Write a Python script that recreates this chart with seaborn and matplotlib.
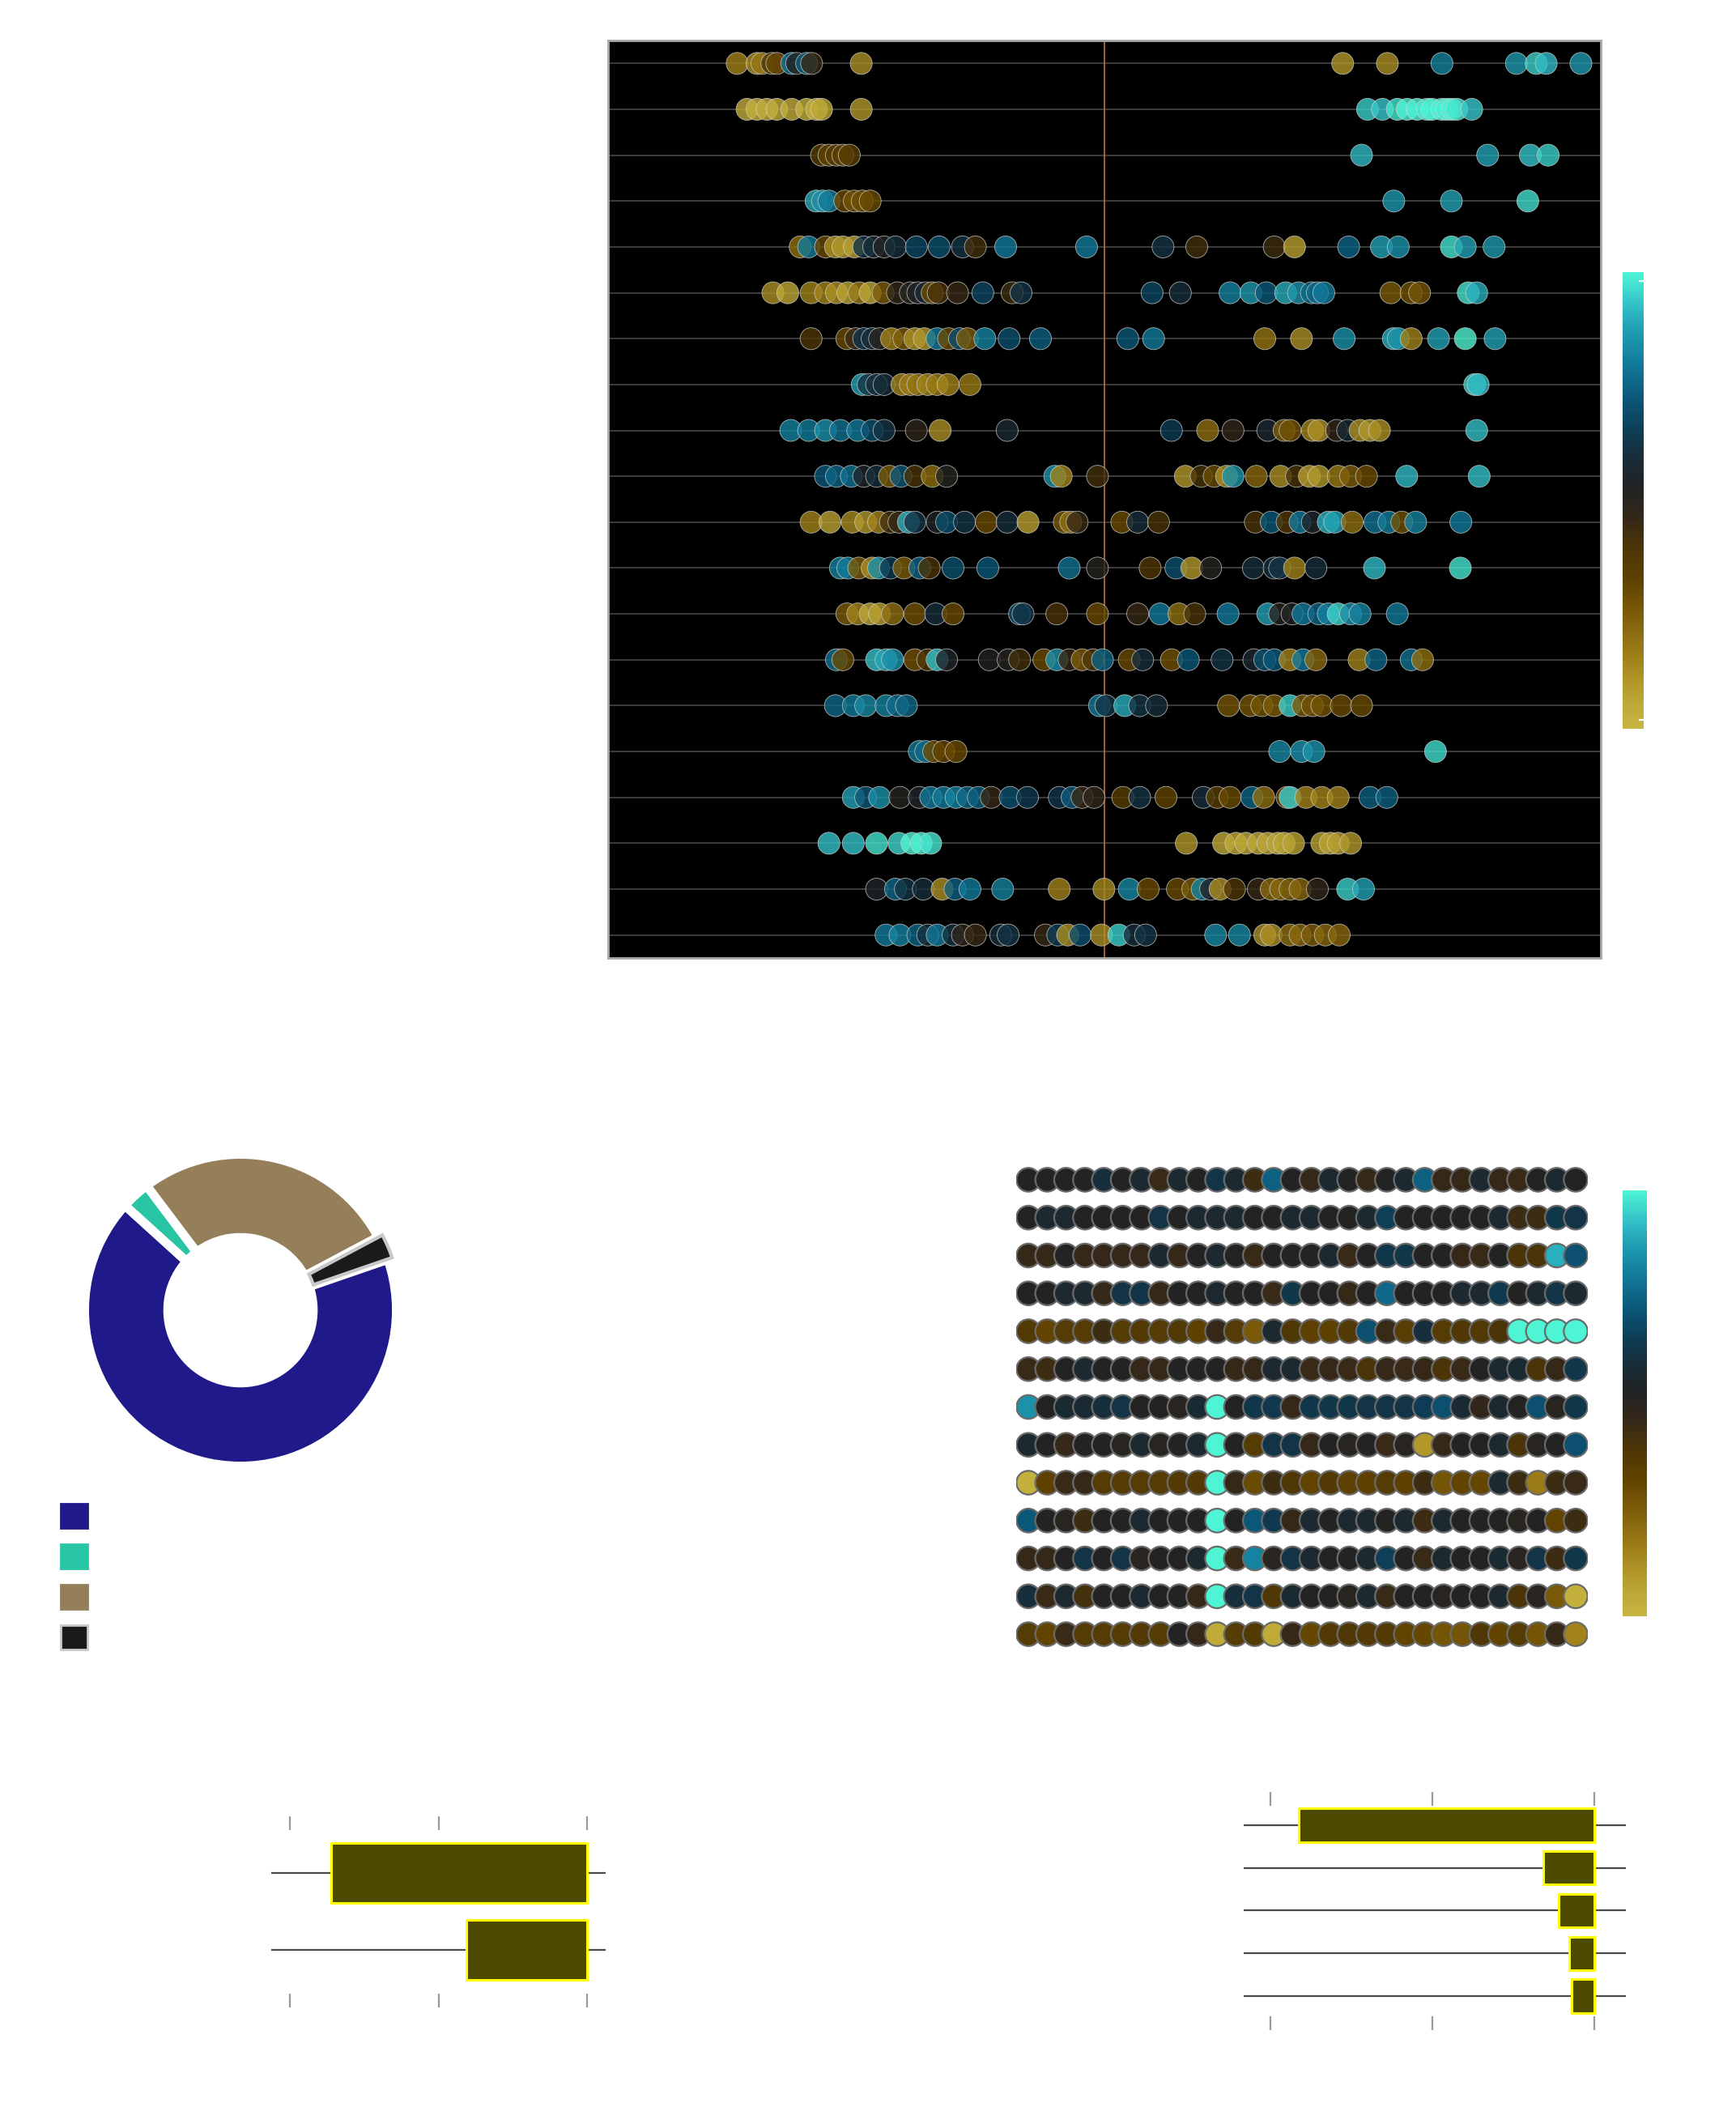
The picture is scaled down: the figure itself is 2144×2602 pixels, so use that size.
import numpy as np
import pandas as pd
import seaborn as sns
import matplotlib
import matplotlib.pyplot as plt
from matplotlib.colors import LinearSegmentedColormap, Normalize
from matplotlib.patches import Patch

# colour scale (gold -> dark -> aqua), sampled from the colour bars
cmap_pos = [0.00, 0.08, 0.16, 0.24, 0.32, 0.40, 0.46, 0.52, 0.58, 0.65, 0.72, 0.80, 0.87, 0.93, 1.00]
cmap_hex = ['#C8B540', '#B8A030', '#9E7E18', '#80600A', '#614300', '#4A3408', '#352818', '#232323',
            '#1A2A33', '#0E3C54', '#0B5677', '#127A9A', '#1E9BB0', '#33C0C8', '#4EF5D5']
cmap = LinearSegmentedColormap.from_list('goldaqua', list(zip(cmap_pos, cmap_hex)))

# beeswarm rows: x value and colour value per point
strip_x = [
    [-0.74, -0.70, -0.69, -0.67, -0.66, -0.63, -0.62, -0.60, -0.59, -0.49, 0.48, 0.57, 0.68, 0.83, 0.87, 0.89, 0.96],
    [-0.72, -0.70, -0.68, -0.66, -0.63, -0.60, -0.58, -0.57, -0.49, 0.53, 0.56, 0.59, 0.61, 0.63, 0.65, 0.66, 0.68, 0.69, 0.70, 0.71, 0.74],
    [-0.57, -0.555, -0.54, -0.527, -0.514, 0.518, 0.772, 0.858, 0.894],
    [-0.581, -0.568, -0.555, -0.523, -0.504, -0.488, -0.472, 0.583, 0.699, 0.853],
    [-0.613, -0.596, -0.562, -0.542, -0.527, -0.504, -0.485, -0.465, -0.444, -0.421, -0.379, -0.333, -0.286, -0.26, -0.199, -0.036,
     0.118, 0.186, 0.342, 0.383, 0.492, 0.558, 0.592, 0.699, 0.727, 0.785],
    [-0.668, -0.638, -0.591, -0.562, -0.54, -0.517, -0.494, -0.472, -0.446, -0.417, -0.391, -0.376, -0.36, -0.347, -0.335, -0.296,
     -0.245, -0.186, -0.168, 0.096, 0.153, 0.253, 0.295, 0.326, 0.365, 0.391, 0.417, 0.429, 0.442, 0.577, 0.618, 0.635, 0.733, 0.75],
    [-0.591, -0.519, -0.501, -0.485, -0.468, -0.453, -0.429, -0.404, -0.382, -0.363, -0.337, -0.314, -0.292, -0.276, -0.241, -0.192,
     -0.129, 0.047, 0.099, 0.323, 0.397, 0.483, 0.582, 0.592, 0.618, 0.673, 0.727, 0.787],
    [-0.488, -0.476, -0.459, -0.444, -0.408, -0.391, -0.376, -0.356, -0.337, -0.315, -0.271, 0.746, 0.753],
    [-0.632, -0.596, -0.562, -0.532, -0.497, -0.468, -0.444, -0.379, -0.331, -0.196, 0.135, 0.208, 0.259, 0.329, 0.362, 0.374,
     0.419, 0.432, 0.468, 0.49, 0.515, 0.535, 0.554, 0.75],
    [-0.562, -0.54, -0.51, -0.485, -0.459, -0.433, -0.41, -0.382, -0.347, -0.318, -0.1, -0.087, -0.014, 0.163, 0.195, 0.221,
     0.246, 0.259, 0.306, 0.355, 0.387, 0.413, 0.432, 0.471, 0.496, 0.528, 0.609, 0.755],
    [-0.591, -0.553, -0.508, -0.481, -0.455, -0.431, -0.414, -0.395, -0.382, -0.337, -0.318, -0.282, -0.238, -0.196, -0.154, -0.081,
     -0.068, -0.055, 0.035, 0.067, 0.109, 0.304, 0.336, 0.368, 0.394, 0.419, 0.451, 0.464, 0.499, 0.545, 0.573, 0.599, 0.627, 0.718],
    [-0.532, -0.517, -0.495, -0.468, -0.455, -0.431, -0.404, -0.372, -0.353, -0.305, -0.235, -0.071, -0.014, 0.092, 0.144, 0.176,
     0.214, 0.30, 0.342, 0.353, 0.383, 0.426, 0.544, 0.717],
    [-0.519, -0.497, -0.472, -0.453, -0.427, -0.382, -0.34, -0.305, -0.171, -0.164, -0.096, -0.014, 0.067, 0.112, 0.15, 0.182,
     0.249, 0.329, 0.353, 0.378, 0.40, 0.432, 0.451, 0.471, 0.496, 0.515, 0.59],
    [-0.54, -0.527, -0.459, -0.44, -0.427, -0.382, -0.356, -0.337, -0.318, -0.232, -0.194, -0.171, -0.122, -0.096, -0.071, -0.045,
     -0.023, -0.004, 0.05, 0.077, 0.135, 0.169, 0.237, 0.301, 0.323, 0.342, 0.374, 0.40, 0.426, 0.513, 0.547, 0.618, 0.641],
    [-0.542, -0.506, -0.481, -0.44, -0.417, -0.399, -0.01, 0.003, 0.041, 0.071, 0.105, 0.25, 0.294, 0.317, 0.342, 0.374, 0.40,
     0.419, 0.438, 0.477, 0.518],
    [-0.373, -0.36, -0.344, -0.324, -0.299, 0.353, 0.397, 0.422, 0.667],
    [-0.506, -0.481, -0.453, -0.412, -0.373, -0.35, -0.324, -0.299, -0.276, -0.254, -0.228, -0.19, -0.155, -0.091, -0.065, -0.045,
     -0.021, 0.037, 0.071, 0.124, 0.199, 0.227, 0.253, 0.297, 0.321, 0.368, 0.374, 0.406, 0.438, 0.471, 0.535, 0.569],
    [-0.555, -0.506, -0.459, -0.414, -0.388, -0.369, -0.35, 0.165, 0.24, 0.265, 0.285, 0.31, 0.329, 0.349, 0.362, 0.381, 0.438,
     0.455, 0.471, 0.496],
    [-0.459, -0.421, -0.401, -0.365, -0.327, -0.301, -0.271, -0.205, -0.091, -0.001, 0.05, 0.088, 0.147, 0.178, 0.197, 0.214,
     0.233, 0.262, 0.31, 0.336, 0.355, 0.374, 0.394, 0.429, 0.49, 0.522],
    [-0.44, -0.412, -0.376, -0.356, -0.337, -0.305, -0.286, -0.26, -0.209, -0.194, -0.119, -0.094, -0.074, -0.049, -0.006, 0.029,
     0.06, 0.083, 0.224, 0.272, 0.323, 0.336, 0.374, 0.394, 0.419, 0.445, 0.473],
]
strip_v = [
    [0.15, 0.12, 0.18, 0.38, 0.30, 0.78, 0.52, 0.74, 0.45, 0.12, 0.10, 0.12, 0.82, 0.86, 0.95, 0.92, 0.86],
    [0.03, 0.02, 0.03, 0.02, 0.03, 0.02, 0.03, 0.05, 0.10, 0.95, 0.94, 0.98, 1.0, 1.0, 0.99, 1.0, 1.0, 0.99, 1.0, 0.98, 0.94],
    [0.35, 0.33, 0.36, 0.34, 0.35, 0.92, 0.88, 0.93, 0.95],
    [0.90, 0.85, 0.80, 0.30, 0.28, 0.29, 0.30, 0.86, 0.88, 0.97],
    [0.20, 0.80, 0.30, 0.12, 0.10, 0.08, 0.62, 0.60, 0.52, 0.60, 0.68, 0.70, 0.62, 0.42, 0.80, 0.80, 0.62, 0.42, 0.43, 0.08,
     0.75, 0.88, 0.85, 0.98, 0.88, 0.86],
    [0.12, 0.05, 0.15, 0.15, 0.12, 0.07, 0.17, 0.05, 0.25, 0.47, 0.50, 0.53, 0.58, 0.30, 0.40, 0.45, 0.68, 0.43, 0.62, 0.68,
     0.60, 0.82, 0.86, 0.72, 0.90, 0.85, 0.75, 0.76, 0.80, 0.25, 0.28, 0.27, 0.98, 0.90],
    [0.38, 0.30, 0.45, 0.62, 0.60, 0.50, 0.15, 0.25, 0.12, 0.10, 0.80, 0.30, 0.70, 0.25, 0.82, 0.70, 0.74, 0.72, 0.80, 0.18,
     0.12, 0.85, 0.90, 0.85, 0.15, 0.88, 1.0, 0.88],
    [0.88, 0.62, 0.60, 0.60, 0.15, 0.17, 0.18, 0.15, 0.17, 0.15, 0.17, 0.96, 0.92],
    [0.82, 0.80, 0.85, 0.78, 0.80, 0.70, 0.62, 0.48, 0.12, 0.58, 0.65, 0.20, 0.47, 0.57, 0.25, 0.28, 0.15, 0.12, 0.47, 0.58,
     0.12, 0.10, 0.12, 0.93],
    [0.72, 0.75, 0.78, 0.55, 0.60, 0.25, 0.72, 0.40, 0.20, 0.50, 0.85, 0.15, 0.42, 0.10, 0.40, 0.30, 0.12, 0.85, 0.22, 0.12,
     0.40, 0.08, 0.10, 0.17, 0.25, 0.30, 0.92, 0.93],
    [0.15, 0.07, 0.13, 0.10, 0.15, 0.42, 0.45, 0.90, 0.62, 0.53, 0.70, 0.62, 0.30, 0.60, 0.08, 0.25, 0.20, 0.45, 0.30, 0.60,
     0.40, 0.40, 0.72, 0.38, 0.80, 0.55, 0.90, 0.88, 0.20, 0.78, 0.80, 0.28, 0.82, 0.80],
    [0.82, 0.80, 0.25, 0.12, 0.85, 0.65, 0.25, 0.75, 0.40, 0.70, 0.72, 0.78, 0.50, 0.38, 0.70, 0.10, 0.50, 0.60, 0.60, 0.62,
     0.15, 0.60, 0.92, 0.98],
    [0.25, 0.15, 0.05, 0.08, 0.20, 0.28, 0.60, 0.30, 0.70, 0.62, 0.40, 0.30, 0.45, 0.80, 0.20, 0.40, 0.80, 0.88, 0.50, 0.53,
     0.80, 0.75, 0.82, 0.96, 0.85, 0.82, 0.80],
    [0.78, 0.30, 0.93, 0.88, 0.85, 0.28, 0.38, 0.93, 0.55, 0.52, 0.50, 0.42, 0.30, 0.85, 0.45, 0.25, 0.38, 0.75, 0.30, 0.60,
     0.28, 0.72, 0.62, 0.57, 0.70, 0.72, 0.15, 0.80, 0.22, 0.15, 0.75, 0.78, 0.20],
    [0.76, 0.80, 0.83, 0.82, 0.76, 0.76, 0.80, 0.62, 0.90, 0.62, 0.60, 0.27, 0.27, 0.28, 0.25, 0.95, 0.25, 0.28, 0.27, 0.30, 0.30],
    [0.80, 0.76, 0.30, 0.32, 0.30, 0.83, 0.85, 0.85, 0.97],
    [0.88, 0.72, 0.85, 0.50, 0.55, 0.80, 0.80, 0.82, 0.76, 0.74, 0.45, 0.70, 0.64, 0.63, 0.73, 0.45, 0.47, 0.35, 0.62, 0.32,
     0.60, 0.35, 0.30, 0.75, 0.20, 0.30, 0.95, 0.15, 0.15, 0.15, 0.74, 0.74],
    [0.93, 0.93, 0.98, 0.96, 1.0, 1.0, 0.98, 0.10, 0.04, 0.05, 0.04, 0.05, 0.05, 0.05, 0.06, 0.07, 0.07, 0.07, 0.08, 0.10],
    [0.55, 0.76, 0.62, 0.60, 0.12, 0.74, 0.80, 0.82, 0.15, 0.13, 0.83, 0.30, 0.30, 0.25, 0.82, 0.53, 0.12, 0.38, 0.45, 0.22,
     0.22, 0.25, 0.22, 0.47, 0.95, 0.88],
    [0.80, 0.82, 0.75, 0.60, 0.80, 0.62, 0.48, 0.45, 0.60, 0.62, 0.45, 0.65, 0.12, 0.70, 0.12, 0.95, 0.60, 0.62, 0.83, 0.83,
     0.12, 0.12, 0.20, 0.22, 0.25, 0.22, 0.22],
]
strip_ticks = [-0.923, -0.74, -0.66, -0.476, -0.398, -0.145, -0.074, 0, 0.074, 0.145, 0.398, 0.476, 0.66, 0.74, 0.923]

# donut
pie_vals = [67, 3, 27.5, 2.5]
pie_colors = ['#20198A', '#27C5A3', '#947F5A', '#1A1A1A']

# dot matrix (13 rows x 30 columns of colour values)
dot_vals = [
    [.52, .52, .52, .52, .60, .52, .57, .45, .57, .52, .62, .57, .44, .74, .52, .46, .57, .52, .46, .52, .57, .74, .46, .46, .57, .46, .45, .52, .57, .52],
    [.52, .57, .57, .52, .52, .52, .52, .62, .52, .57, .57, .57, .52, .52, .57, .57, .52, .52, .57, .66, .52, .52, .52, .52, .52, .57, .44, .44, .63, .62],
    [.46, .46, .52, .46, .46, .46, .46, .57, .46, .52, .57, .52, .45, .52, .52, .52, .57, .45, .52, .63, .63, .52, .52, .46, .45, .52, .40, .40, .90, .70],
    [.52, .52, .57, .57, .46, .62, .62, .46, .52, .52, .57, .52, .52, .45, .63, .52, .52, .46, .52, .76, .52, .52, .52, .57, .57, .64, .52, .57, .62, .57],
    [.37, .32, .36, .36, .44, .36, .37, .36, .37, .33, .46, .36, .26, .57, .38, .33, .33, .37, .70, .45, .35, .60, .36, .38, .37, .40, 1.0, 1.0, 1.0, 1.0],
    [.45, .44, .52, .57, .52, .52, .46, .46, .52, .52, .52, .46, .46, .57, .57, .45, .46, .45, .40, .46, .45, .46, .40, .45, .52, .57, .58, .40, .46, .63],
    [.85, .52, .58, .58, .60, .62, .52, .52, .50, .58, 1.0, .52, .63, .64, .46, .63, .63, .63, .62, .62, .62, .65, .70, .58, .47, .57, .52, .70, .50, .63],
    [.57, .52, .46, .52, .52, .50, .57, .50, .52, .57, 1.0, .52, .36, .62, .62, .46, .52, .50, .52, .45, .50, .10, .46, .52, .52, .57, .40, .50, .52, .70],
    [.02, .33, .45, .46, .36, .36, .36, .36, .37, .37, 1.0, .46, .30, .44, .38, .32, .37, .33, .33, .36, .33, .44, .27, .32, .31, .57, .44, .17, .44, .45],
    [.72, .52, .50, .44, .52, .52, .57, .52, .52, .52, 1.0, .52, .72, .64, .46, .57, .52, .57, .57, .52, .57, .44, .57, .52, .52, .52, .50, .52, .32, .44],
    [.46, .46, .52, .62, .52, .62, .50, .52, .52, .57, 1.0, .45, .82, .50, .62, .57, .52, .52, .57, .66, .52, .45, .57, .52, .52, .58, .50, .62, .44, .63],
    [.60, .45, .57, .42, .52, .52, .57, .52, .52, .46, 1.0, .60, .62, .38, .58, .52, .52, .50, .57, .45, .52, .52, .50, .52, .52, .57, .40, .50, .26, .02],
    [.36, .32, .45, .36, .36, .36, .37, .36, .52, .46, .04, .36, .37, .04, .46, .31, .37, .38, .37, .37, .32, .31, .27, .27, .38, .32, .36, .27, .46, .15],
]

# horizontal bars
bar_left_cats = ['A', 'B']
bar_left_vals = [1.72, 0.81]
bar_right_cats = ['A', 'B', 'C', 'D', 'E']
bar_right_vals = [1.826, 0.315, 0.22, 0.155, 0.14]

W, H = 2144, 2602


def box(x0, y0, x1, y1):
    # pixel box -> figure fraction [left, bottom, width, height]
    return [x0 / W, 1 - y1 / H, (x1 - x0) / W, (y1 - y0) / H]


fig = plt.figure(figsize=(W / 200, H / 200), dpi=200)
norm = Normalize(0, 1)

# ---- beeswarm ----
strip_df = pd.DataFrame({
    'row': np.concatenate([[i] * len(xs) for i, xs in enumerate(strip_x)]),
    'x': np.concatenate(strip_x),
    'v': np.concatenate(strip_v),
})
ax1 = fig.add_axes(box(751, 50, 1977, 1183))
ax1.set_facecolor('black')
ax1.set_yticks(range(20))
ax1.grid(axis='y', color='#484848', lw=0.6)
ax1.set_axisbelow(True)
ax1.axvline(0, color='#c0703a', lw=0.6, zorder=1)
sns.scatterplot(data=strip_df, x='x', y='row', hue='v', palette=cmap, hue_norm=(0, 1), s=95, alpha=0.8,
                edgecolor='#d0d0d0', linewidth=0.3, legend=False, ax=ax1, zorder=3)
ax1.set_xlim(-1, 1)
ax1.set_ylim(19.5, -0.5)
ax1.set_xticks(strip_ticks)
ax1.tick_params(axis='x', colors='white', length=4, width=1, labelbottom=False)
ax1.tick_params(axis='y', length=0, labelleft=False)
ax1.set_xlabel('')
ax1.set_ylabel('')
for sp in ax1.spines.values():
    sp.set_color('#a8a8a8')
    sp.set_linewidth(1)

cax1 = fig.add_axes(box(2004, 336, 2030, 900))
cb1 = fig.colorbar(matplotlib.cm.ScalarMappable(norm=norm, cmap=cmap), cax=cax1)
cb1.outline.set_visible(False)
cb1.set_ticks([0.02, 0.98])
cax1.tick_params(colors='white', length=2, direction='in', labelright=False)

# ---- donut ----
ax2 = fig.add_axes(box(297 - 233.75, 1618 - 233.75, 297 + 233.75, 1618 + 233.75))
wedges, _ = ax2.pie(pie_vals, colors=pie_colors, startangle=19, counterclock=False, radius=1.03,
                    explode=[0, 0, 0, 0.03],
                    wedgeprops=dict(width=0.55, edgecolor='white', linewidth=4))
wedges[3].set_edgecolor('#c8c8c8')
wedges[3].set_linewidth(1.5)
ax2.set_xlim(-1.25, 1.25)
ax2.set_ylim(-1.25, 1.25)
ax2.set_aspect('equal')

handles = [Patch(facecolor=c, edgecolor=('#c8c8c8' if i == 3 else c), linewidth=1)
           for i, c in enumerate(pie_colors)]
fig.legend(handles, ['', '', '', ''], loc='upper left', bbox_to_anchor=(75 / W, 1 - 1857 / H),
           frameon=False, borderpad=0, borderaxespad=0, handlelength=1, handleheight=1,
           fontsize=12, labelspacing=0.5)

# ---- dot matrix ----
dot_df = pd.DataFrame([(r, c, v) for r, row in enumerate(dot_vals) for c, v in enumerate(row)],
                      columns=['row', 'col', 'v'])
ax3 = fig.add_axes(box(1255, 1434, 1961, 2041))
sns.scatterplot(data=dot_df, x='col', y='row', hue='v', palette=cmap, hue_norm=(0, 1), s=112,
                edgecolor='#6a6a6a', linewidth=0.8, legend=False, ax=ax3)
ax3.set_xlim(-0.644, 29.644)
ax3.set_ylim(12.49, -0.49)
ax3.axis('off')

cax2 = fig.add_axes(box(2004, 1470, 2034, 1996))
cb2 = fig.colorbar(matplotlib.cm.ScalarMappable(norm=norm, cmap=cmap), cax=cax2)
cb2.outline.set_visible(False)
cb2.set_ticks([])


# ---- bars ----
def bar_panel(rect, cats, vals, xlim, ylim):
    ax = fig.add_axes(rect)
    sns.barplot(x=vals, y=cats, orient='h', color='#4B4A00', saturation=1, edgecolor='#FFFF00',
                linewidth=1.1, width=0.78, ax=ax)
    ax.set_xlim(*xlim)
    ax.set_ylim(*ylim)
    ax.set_xticks([0, 1, 2])
    ax.tick_params(axis='x', top=True, bottom=True, labelbottom=False, labeltop=False,
                   length=6, width=0.8, color='#999999', direction='out')
    ax.tick_params(axis='y', length=0, labelleft=False)
    ax.grid(axis='y', color='#4a4a4a', lw=0.8)
    ax.set_axisbelow(True)
    for sp in ax.spines.values():
        sp.set_visible(False)
    ax.set_xlabel('')
    ax.set_ylabel('')
    return ax


bar_panel(box(335, 2260, 748, 2462), bar_left_cats, bar_left_vals, (2.125, -0.125), (1.568, -0.558))
bar_panel(box(1536, 2230, 2008, 2490), bar_right_cats, bar_right_vals, (2.165, -0.195), (4.474, -0.455))

fig.savefig('out.png', dpi=200)
